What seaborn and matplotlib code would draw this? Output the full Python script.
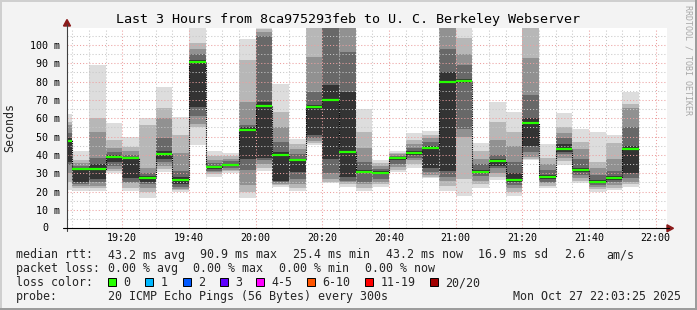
import matplotlib
matplotlib.use("Agg")
import matplotlib.pyplot as plt
from matplotlib.patches import Rectangle, Polygon
from matplotlib.lines import Line2D
import numpy as np
import pandas as pd
import seaborn as sns

# ---------------- data ----------------
view_start = "19:03:25"
view_end = "22:03:25"
slot_start = ["19:03:25", "19:05", "19:10", "19:15", "19:20", "19:25", "19:30", "19:35",
              "19:40", "19:45", "19:50", "19:55", "20:00", "20:05", "20:10", "20:15",
              "20:20", "20:25", "20:30", "20:35", "20:40", "20:45", "20:50", "20:55",
              "21:00", "21:05", "21:10", "21:15", "21:20", "21:25", "21:30", "21:35",
              "21:40", "21:45", "21:50"]
slot_end = ["19:05", "19:10", "19:15", "19:20", "19:25", "19:30", "19:35", "19:40",
            "19:45", "19:50", "19:55", "20:00", "20:05", "20:10", "20:15", "20:20",
            "20:25", "20:30", "20:35", "20:40", "20:45", "20:50", "20:55", "21:00",
            "21:05", "21:10", "21:15", "21:20", "21:25", "21:30", "21:35", "21:40",
            "21:45", "21:50", "21:55"]
median_ms = [47.5, 32.2, 32.4, 39.1, 38.4, 27.6, 40.7, 26.4, 90.9, 33.3, 34.5, 53.8,
             66.9, 40.0, 37.5, 66.3, 69.8, 41.6, 30.9, 30.4, 38.2, 40.9, 43.6, 79.8,
             80.4, 30.5, 36.5, 26.2, 57.3, 28.0, 43.1, 31.6, 25.4, 27.3, 43.2]
# sorted ping levels (ms) per slot, outermost (0/9) to innermost (4/5)
ping_0 = [20.9, 20.5, 20.5, 30, 20.6, 16.7, 30.9, 20, 45.5, 28.2, 30, 16.7, 31, 22.7, 20.5,
          45.5, 24.6, 22.7, 20.5, 22.7, 30.9, 33.1, 27.3, 20.5, 17.8, 22, 26.3, 17.8, 37.3,
          21.8, 34.5, 24.5, 20, 20.9, 22.7]
ping_1 = [25.4, 22, 22, 31, 22, 20, 32.5, 21, 55, 29.5, 31, 20, 33, 23.5, 22, 46.5, 25.5,
          24, 22, 24, 32, 35, 28.2, 23, 27, 24, 28, 20, 38, 23, 36.5, 26, 21.5, 22, 24]
ping_2 = [30, 23, 23, 32.5, 24.5, 22, 34, 21.5, 57, 30.5, 32, 23.6, 35, 24, 24, 47.5, 27,
          25, 24, 25.5, 33.5, 37, 29, 26, 50, 26, 30, 22, 39, 24.5, 38.5, 27.5, 22.5, 23.5, 25.5]
ping_3 = [34.5, 24, 25, 34, 25.5, 24, 36.4, 22.5, 61, 31.5, 33, 32, 37, 25, 27, 49, 30, 26,
          25.5, 27, 35, 38.5, 30.9, 28, 54, 28.5, 32.7, 23.6, 41.8, 25.5, 40.5, 29, 23.5, 25, 27.3]
ping_4 = [36, 25.5, 27, 36, 27.3, 25.5, 38, 24, 66, 32.5, 34, 38, 38.5, 26, 30.9, 51, 38, 28,
          30, 29.5, 37, 40, 33, 31, 79, 30, 34, 25.5, 45, 27, 41.8, 30.5, 24.5, 26.5, 30]
ping_5 = [49, 33, 35, 40, 39, 28.5, 42, 28, 92, 34, 35, 55, 69, 41.5, 38, 67, 78, 74.5, 32,
          31, 38.5, 42, 45, 85, 81.5, 32, 38, 30, 60, 29, 46, 33, 26.5, 28.5, 45]
ping_6 = [52, 34, 38.2, 41.8, 40, 30, 49, 31, 95, 35.5, 36.5, 56.4, 105, 47.3, 40.5, 74.5,
          112, 96, 36, 32.5, 39.5, 44, 47, 98, 89, 35, 40, 36.4, 72.7, 32, 49, 38, 29, 31, 55]
ping_7 = [56.4, 35.5, 52.7, 44, 42, 32.7, 60, 41, 98, 37.3, 38, 69, 107, 55, 43, 93.6, 115,
          112, 44, 34, 40.5, 46, 49, 112, 95, 38, 48, 45, 92.7, 35, 52, 43, 33, 38, 65.4]
ping_8 = [58, 37.3, 60, 48.2, 44.5, 56.4, 65.4, 50.9, 101, 39.5, 39.5, 91.8, 109, 63.6, 45.8,
          112, 118, 115, 52.7, 35.5, 41.2, 48.2, 51, 115, 104, 42, 58.2, 52.7, 112, 38.2,
          55.4, 47.3, 36.4, 46.4, 68]
ping_9 = [62.2, 42.2, 89.1, 57.3, 49.6, 60, 76.9, 60.9, 115, 42.2, 41.3, 103.3, 112, 78.5,
          48.5, 115, 120, 118, 65, 37.3, 42.2, 52.2, 53, 120, 112, 46.4, 69.1, 63.6, 115, 46,
          62.7, 54.2, 52.4, 50.9, 74.5]

x_tick_labels = ["19:20", "19:40", "20:00", "20:20", "20:40", "21:00", "21:20", "21:40", "22:00"]
y_tick_values = [0, 10, 20, 30, 40, 50, 60, 70, 80, 90, 100]
loss_labels = ["0", "1", "2", "3", "4-5", "6-10", "11-19", "20/20"]
loss_colors = ["#26ff00", "#00b8ff", "#0059ff", "#5e00ff", "#ff00ff", "#ff5500", "#ff0000", "#a10000"]
rtt_stats = ["43.2 ms avg", "90.9 ms max", "25.4 ms min", "43.2 ms now", "16.9 ms sd", "2.6"]
loss_stats = ["0.00 % avg", "0.00 % max", "0.00 % min", "0.00 % now"]

title = "Last 3 Hours from 8ca975293feb to U. C. Berkeley Webserver"


def hm(s):
    p = [float(v) for v in s.split(":")]
    return p[0] * 60 + p[1] + (p[2] / 60 if len(p) > 2 else 0)


df = pd.DataFrame({"start": [hm(s) for s in slot_start],
                   "end": [hm(s) for s in slot_end],
                   "median": median_ms,
                   "p0": ping_0, "p1": ping_1, "p2": ping_2, "p3": ping_3, "p4": ping_4,
                   "p5": ping_5, "p6": ping_6, "p7": ping_7, "p8": ping_8, "p9": ping_9})
df["width"] = df["end"] - df["start"]

# ---------------- figure ----------------
W, H = 697, 310
sns.set_theme(style="white")
plt.rcParams["font.family"] = ["DejaVu Sans Mono", "DejaVu Sans"]

fig = plt.figure(figsize=(W / 100, H / 100), dpi=100, facecolor="#f3f3f3")


def fx(px):
    return px / W


def fy(py):
    return 1 - py / H


X0, X1, YT, YB = 67, 667, 28, 228.3
ax = fig.add_axes([fx(X0), fy(YB), (X1 - X0) / W, (YB - YT) / H])
ax.set_facecolor("white")

grays = ["#dddddd", "#b7b7b7", "#919191", "#686868", "#333333"]
pairs = [("p0", "p9"), ("p1", "p8"), ("p2", "p7"), ("p3", "p6"), ("p4", "p5")]
for (lo, hi), g in zip(pairs, grays):
    ax.bar(df["start"], df[hi] - df[lo], bottom=df[lo], width=df["width"], align="edge",
           color=g, linewidth=0, antialiased=False, zorder=1)

# median step connectors
step_x = list(df["start"]) + [df["end"].iloc[-1]]
step_y = list(df["median"]) + [df["median"].iloc[-1]]
sns.lineplot(x=step_x, y=step_y, drawstyle="steps-post", color="black", lw=0.8,
             linestyle=(0, (1, 1)), estimator=None, sort=False, ax=ax, zorder=3)
ax.hlines(df["median"], df["start"], df["end"], colors=loss_colors[0], lw=1.6, zorder=4)

ax.set_xlim(hm(view_start), hm(view_end))
ax.set_ylim(0, (YB - YT) / 1.833)

ax.set_xticks([hm(s) for s in x_tick_labels])
ax.set_xticklabels(x_tick_labels)
ax.set_xticks(np.arange(hm("19:05"), hm("22:03"), 5), minor=True)
ax.set_yticks(y_tick_values)
ax.set_yticklabels([f"{v} m" if v else "" for v in y_tick_values])
ax.set_yticks(np.arange(5, 110, 10), minor=True)
ax.text(-(X0 - 48) / (X1 - X0), 0, "0", transform=ax.get_yaxis_transform(),
        ha="right", va="center", fontsize=7.2, color="black")

ax.set_axisbelow(False)
ax.grid(True, which="major", color="#eca0a0", lw=0.75, linestyle=(0, (1, 2)), zorder=2.5)
ax.grid(True, which="minor", color="#c8c8c8", lw=0.75, linestyle=(0, (1, 2)), zorder=2.5)
ax.tick_params(axis="x", which="both", length=0, pad=3.6, labelsize=7.2, labelcolor="black")
ax.tick_params(axis="y", which="both", length=0, pad=5.0, labelsize=7.2, labelcolor="black")
for s in ax.spines.values():
    s.set_visible(False)

# axes lines and arrows
fig.add_artist(Line2D([fx(X0), fx(X0)], [fy(YB + 3), fy(24)], color="#404040", lw=0.8))
fig.add_artist(Line2D([fx(63), fx(669)], [fy(YB), fy(YB)], color="black", lw=0.8))
fig.add_artist(Polygon([[fx(X0 - 3.5), fy(26)], [fx(X0 + 3.5), fy(26)], [fx(X0), fy(19.5)]],
                       closed=True, color="#8b1a1a", transform=fig.transFigure))
fig.add_artist(Polygon([[fx(667), fy(YB - 3.5)], [fx(667), fy(YB + 3.5)], [fx(673.5), fy(YB)]],
                       closed=True, color="#8b1a1a", transform=fig.transFigure))

# texts
fig.text(fx(348), fy(19), title, ha="center", va="center", fontsize=9.6, color="black")
fig.text(fx(10), fy(128), "Seconds", rotation=90, ha="center", va="center", fontsize=8.4)
fig.text(fx(688), fy(60), "RRDTOOL / TOBI OETIKER", rotation=-90, ha="center", va="center",
         fontsize=6, color="#a8a8a8")

LF = 8.4
rows = [258.5, 272.3, 286.2, 300.0]
rtt_x = [107.6, 200.3, 293, 385.7, 478.4, 564]
loss_x = [107.6, 193.3, 279, 364.7]
fig.text(fx(16), fy(rows[0]), "median rtt:", ha="left", va="baseline", fontsize=LF)
for x, t in zip(rtt_x, rtt_stats):
    fig.text(fx(x), fy(rows[0]), t, ha="left", va="baseline", fontsize=LF)
fig.text(fx(606.7), fy(rows[0]), "am/s", ha="left", va="baseline", fontsize=LF)
fig.text(fx(16), fy(rows[1]), "packet loss:", ha="left", va="baseline", fontsize=LF)
for x, t in zip(loss_x, loss_stats):
    fig.text(fx(x), fy(rows[1]), t, ha="left", va="baseline", fontsize=LF)
fig.text(fx(16), fy(rows[2]), "loss color:", ha="left", va="baseline", fontsize=LF)
box_x = [108.4, 145.3, 182.7, 219.6, 256.4, 307, 365.3, 430]
for bx, lab, col in zip(box_x, loss_labels, loss_colors):
    fig.add_artist(Rectangle((fx(bx), fy(286)), 8 / W, 8 / H, facecolor=col,
                             edgecolor="black", lw=0.7, transform=fig.transFigure))
    fig.text(fx(bx + 15.2), fy(rows[2]), lab, ha="left", va="baseline", fontsize=LF)
fig.text(fx(16), fy(rows[3]), "probe:", ha="left", va="baseline", fontsize=LF)
fig.text(fx(107.6), fy(rows[3]), "20 ICMP Echo Pings (56 Bytes) every 300s", ha="left",
         va="baseline", fontsize=LF)
fig.text(fx(681), fy(rows[3]), "Mon Oct 27 22:03:25 2025", ha="right", va="baseline", fontsize=LF)

# frame
fig.add_artist(Rectangle((0, fy(2)), 1, 2 / H, facecolor="#cfcfcf", lw=0, transform=fig.transFigure))
fig.add_artist(Rectangle((0, 0), 2 / W, 1, facecolor="#cfcfcf", lw=0, transform=fig.transFigure))
fig.add_artist(Rectangle((fx(695), 0), 2 / W, 1, facecolor="#9c9c9c", lw=0, transform=fig.transFigure))
fig.add_artist(Rectangle((0, 0), 1, 2 / H, facecolor="#9c9c9c", lw=0, transform=fig.transFigure))

fig.savefig("out.png", dpi=100, facecolor=fig.get_facecolor())
